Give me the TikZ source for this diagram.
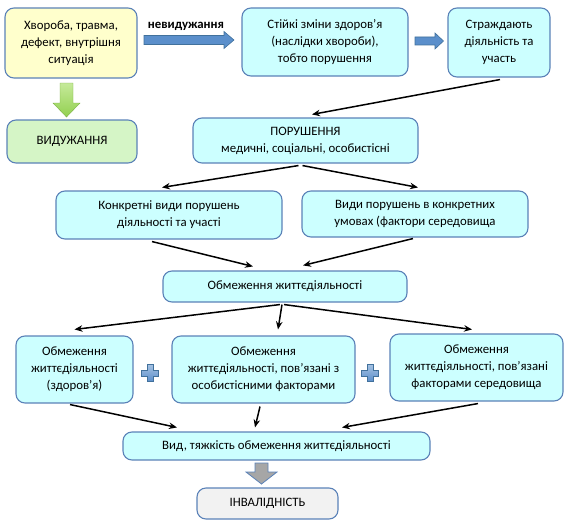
\documentclass[tikz,border=0pt]{standalone}
\usepackage{fontspec}
\setmainfont{Carlito}
\usetikzlibrary{arrows.meta}
\definecolor{bord}{HTML}{5B82B8}
\definecolor{cyanf}{HTML}{CCFFFF}
\definecolor{yelf}{HTML}{FFFFCC}
\definecolor{grnf}{HTML}{D5F5C6}
\definecolor{grayf}{HTML}{F2F2F2}
\definecolor{blockblue}{HTML}{5B8FCB}
\definecolor{blockblueD}{HTML}{41719C}
\definecolor{grnarrow}{HTML}{92D050}
\definecolor{grnarrowL}{HTML}{C6EA9A}
\definecolor{grayarrow}{HTML}{A6A6A6}
\tikzset{
  box/.style={rectangle, rounded corners=9pt, draw=bord, line width=1.1pt,
    fill=cyanf, align=center, inner sep=0pt,
    font=\fontsize{12.8}{17}\selectfont},
  conn/.style={line width=1.5pt, -{Stealth[length=8pt,width=6.5pt]}},
  blockar/.style={draw=blockblueD, line width=0.6pt, fill=blockblue},
}
\begin{document}
\begin{tikzpicture}[x=1pt,y=-1pt]
\useasboundingbox (0,0) rectangle (570,527);
% top row
\node[box, fill=yelf, minimum width=132pt, minimum height=70pt] (b1) at (71,43)
  {Хвороба, травма,\\дефект, внутрішня\\ситуація};
\node[box, minimum width=166pt, minimum height=68pt] (b2) at (325,42)
  {Стійкі зміни здоров’я\\(наслідки хвороби),\\тобто порушення};
\node[box, minimum width=102pt, minimum height=69pt] (b3) at (499,42.5)
  {Страждають\\діяльність та\\участь};
\node[box, fill=grnf, minimum width=130pt, minimum height=43pt] (vyd) at (72,141.5)
  {ВИДУЖАННЯ};
\node[box, minimum width=225pt, minimum height=45pt] (por) at (305.5,140.5)
  {ПОРУШЕННЯ\\медичні, соціальні, особистісні};
\node[box, minimum width=226pt, minimum height=48pt] (k) at (169,215)
  {Конкретні види порушень\\діяльності та участі};
\node[box, minimum width=226pt, minimum height=46pt] (v) at (415,214)
  {Види порушень в конкретних\\умовах (фактори середовища};
\node[box, minimum width=244pt, minimum height=31pt] (o) at (285,286.5)
  {Обмеження життєдіяльності};
\node[box, minimum width=117pt, minimum height=67pt] (l) at (74.5,369.5)
  {Обмеження\\життєдіяльності\\(здоров’я)};
\node[box, minimum width=183pt, minimum height=67pt] (m) at (263.5,369.5)
  {Обмеження\\життєдіяльності, пов’язані з\\особистісними факторами};
\node[box, minimum width=173pt, minimum height=67pt] (r) at (476.5,367.5)
  {Обмеження\\життєдіяльності, пов’язані\\факторами середовища};
\node[box, minimum width=307pt, minimum height=28pt] (vid) at (276.5,446)
  {Вид, тяжкість обмеження життєдіяльності};
\node[box, fill=grayf, minimum width=141pt, minimum height=31pt] (inv) at (267.5,503.5)
  {ІНВАЛІДНІСТЬ};
% label
\node[font=\fontsize{12.8}{14}\selectfont\bfseries, inner sep=0pt] (nev) at (186,26) {невидужання};
% block arrows
\draw[blockar] (144,35.5) -- (224,35.5) -- (224,31.5) -- (234,40) -- (224,48.5) -- (224,44.5) -- (144,44.5) -- cycle;
\draw[blockar] (415,37) -- (435,37) -- (435,33) -- (443.5,41) -- (435,49) -- (435,45) -- (415,45) -- cycle;
\shade[top color=grnarrowL, bottom color=grnarrow, draw=grnarrow!85!black, line width=0.4pt]
  (60,83) -- (73,83) -- (73,103) -- (80,103) -- (66.5,117) -- (53,103) -- (60,103) -- cycle;
\draw[fill=grayarrow, draw=bord, line width=0.8pt]
  (255,463) -- (268,463) -- (268,472) -- (277,472) -- (261.5,484) -- (246,472) -- (255,472) -- cycle;
% plus signs
\foreach \cx in {150,370}{
  \shade[top color=blockblue!55!white, bottom color=blockblue, draw=blockblueD, line width=0.4pt]
    (\cx-3,364.5) -- (\cx+3,364.5) -- (\cx+3,370) -- (\cx+8.5,370) -- (\cx+8.5,376) -- (\cx+3,376)
    -- (\cx+3,381.5) -- (\cx-3,381.5) -- (\cx-3,376) -- (\cx-8.5,376) -- (\cx-8.5,370) -- (\cx-3,370) -- cycle;
}
% connectors
\draw[conn] ([xshift=1pt,yshift=-2pt]b3.south) -- ([xshift=6.5pt,yshift=3pt]por.north);
\draw[conn] ([xshift=-7pt,yshift=-2pt]por.south) -- ([xshift=-7pt,yshift=3pt]k.north);
\draw[conn] ([xshift=-3pt,yshift=-2pt]por.south) -- ([xshift=3pt,yshift=3pt]v.north);
\draw[conn] ([xshift=-17pt,yshift=-2pt]k.south) -- ([xshift=-32pt,yshift=4pt]o.north);
\draw[conn] ([xshift=-2pt,yshift=-1pt]v.south) -- ([xshift=18pt,yshift=5pt]o.north);
\draw[conn] ([xshift=-5pt,yshift=-2pt]o.south) -- ([yshift=6pt]l.north);
\draw[conn] ([xshift=-3pt,yshift=-2pt]o.south) -- ([xshift=14.5pt,yshift=6pt]m.north);
\draw[conn] ([xshift=-1pt,yshift=-2pt]o.south) -- ([xshift=-4.5pt,yshift=4pt]r.north);
\draw[conn] ([xshift=-4.5pt,yshift=-1pt]l.south) -- ([xshift=-99.5pt,yshift=4pt]vid.north);
\draw[conn] ([xshift=-3.5pt,yshift=-3pt]m.south) -- ([xshift=-21.5pt,yshift=4pt]vid.north);
\draw[conn] ([xshift=1.5pt,yshift=-2pt]r.south) -- ([xshift=65.5pt,yshift=4pt]vid.north);
\end{tikzpicture}
\end{document}
